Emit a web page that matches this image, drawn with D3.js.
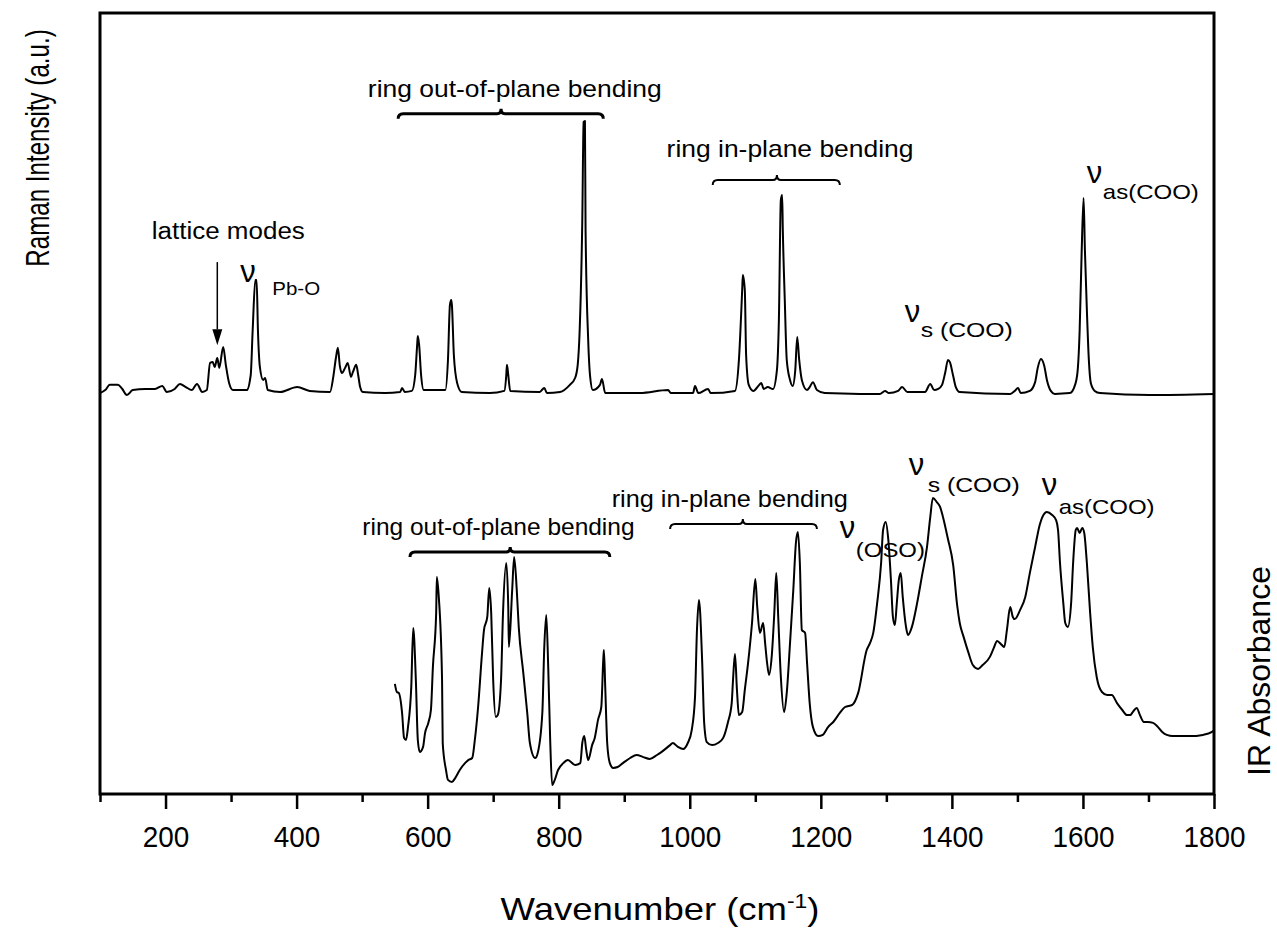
<!DOCTYPE html>
<html><head><meta charset="utf-8">
<script src="https://cdn.jsdelivr.net/npm/d3@7"></script>
<style>
html,body{margin:0;padding:0;background:#fff;}
svg{display:block;font-family:"Liberation Sans",Arial,Helvetica,sans-serif;}
</style></head><body>
<svg id="chart" width="1277" height="930"></svg>
<script>
// Raman spectrum: [wavenumber (cm-1), intensity (a.u.)]
const ramanSpectrum = [
[100,7],[108,18],[115,37],[127,37],[134,22],[141,0],[150,18],[169,22],[184,22],[195,33],[202,11],[214,22],[222,40],[231,29],[240,18],[248,40],[256,11],[263,18],[268,117],[272,120],[275,102],[279,135],[282,99],[288,175],[292,110],[297,44],[303,18],[324,18],[330,73],[333,237],[337,420],[339,420],[341,237],[344,102],[349,55],[352,62],[356,18],[375,11],[401,29],[420,15],[451,11],[456,66],[460,135],[463,172],[466,106],[469,80],[474,99],[478,117],[483,66],[486,84],[491,110],[494,73],[497,29],[501,11],[535,7],[558,11],[561,26],[565,11],[576,15],[581,73],[584,183],[585,215],[587,183],[590,73],[594,18],[627,18],[631,128],[634,329],[636,347],[637,329],[640,146],[645,44],[652,11],[695,7],[717,15],[720,73],[721,110],[723,73],[726,15],[771,11],[778,26],[782,7],[802,11],[817,37],[825,62],[829,110],[832,237],[836,639],[838,996],[840,1000],[841,602],[845,201],[848,66],[852,18],[863,37],[866,58],[871,7],[924,7],[967,18],[971,7],[1005,7],[1008,33],[1013,7],[1028,22],[1032,7],[1069,15],[1075,128],[1080,383],[1081,438],[1084,383],[1086,146],[1090,37],[1097,15],[1106,37],[1109,44],[1113,22],[1119,29],[1127,22],[1133,91],[1136,274],[1139,712],[1141,730],[1142,602],[1145,347],[1148,128],[1153,55],[1157,33],[1161,91],[1164,212],[1167,128],[1171,55],[1179,18],[1183,29],[1188,47],[1194,18],[1206,7],[1260,4],[1290,4],[1298,15],[1304,7],[1318,15],[1324,29],[1332,11],[1359,11],[1367,40],[1373,18],[1379,22],[1385,37],[1390,84],[1394,128],[1397,120],[1402,69],[1406,29],[1412,11],[1489,4],[1496,15],[1501,26],[1505,7],[1519,15],[1527,47],[1531,99],[1536,131],[1541,106],[1545,55],[1551,15],[1557,4],[1580,7],[1588,37],[1592,91],[1595,237],[1598,518],[1601,719],[1603,529],[1606,310],[1609,128],[1612,44],[1618,15],[1626,7],[1702,0],[1800,4]
];

// IR spectrum: [wavenumber (cm-1), absorbance (a.u.)]
const irSpectrum = [
[550,36.7],[553,34.0],[556,33.7],[561,27.0],[564,18.7],[567,18.0],[570,22.3],[575,35.7],[578,55.3],[582,38.0],[585,18.0],[588,14.0],[593,15.7],[596,20.3],[601,23.7],[605,28.0],[608,42.3],[613,60.3],[614,72.3],[617,65.7],[622,38.0],[623,17.0],[628,8.0],[631,4.7],[637,4.0],[642,5.3],[649,8.0],[657,10.3],[662,11.3],[668,12.0],[672,18.0],[677,29.0],[683,47.0],[686,54.7],[691,59.0],[694,68.7],[697,60.3],[700,38.0],[704,25.7],[707,26.3],[712,38.0],[715,60.3],[720,77.0],[723,62.3],[724,49.0],[729,68.0],[732,79.0],[736,68.0],[739,55.7],[746,40.3],[752,27.0],[756,17.0],[764,12.0],[768,13.7],[775,27.0],[778,49.0],[781,59.7],[784,42.3],[787,18.0],[790,3.0],[794,4.7],[799,8.0],[807,10.3],[814,11.3],[825,9.7],[833,10.3],[836,17.0],[839,19.3],[842,14.7],[845,11.3],[851,16.3],[855,18.7],[860,24.7],[865,29.0],[868,44.7],[869,48.0],[871,35.7],[874,17.0],[878,10.3],[883,8.7],[890,9.0],[898,10.3],[909,12.0],[919,13.0],[929,12.3],[939,11.7],[950,13.0],[955,13.7],[970,16.3],[974,17.0],[982,15.7],[990,15.0],[997,17.0],[1003,21.3],[1008,32.3],[1011,54.7],[1014,64.7],[1019,43.7],[1022,23.7],[1026,17.3],[1034,16.3],[1043,17.0],[1051,18.7],[1058,23.7],[1064,30.3],[1066,38.0],[1069,46.7],[1072,34.7],[1075,26.3],[1080,27.3],[1084,34.7],[1089,43.7],[1095,57.0],[1100,71.7],[1103,62.3],[1107,53.7],[1112,57.0],[1115,50.3],[1118,43.7],[1121,39.7],[1125,45.7],[1129,60.3],[1132,73.7],[1135,59.0],[1139,39.0],[1144,27.3],[1148,33.7],[1153,50.3],[1158,68.0],[1162,83.7],[1165,87.3],[1168,77.0],[1171,54.7],[1176,53.7],[1179,43.7],[1183,30.3],[1188,22.3],[1196,19.3],[1203,19.7],[1211,22.3],[1219,24.0],[1229,27.0],[1237,29.0],[1248,29.7],[1257,33.7],[1270,48.0],[1275,50.3],[1280,53.7],[1286,63.7],[1292,77.0],[1295,88.0],[1299,90.7],[1303,84.7],[1307,71.3],[1310,59.0],[1313,56.3],[1316,63.7],[1319,71.3],[1322,73.7],[1325,65.7],[1330,55.7],[1333,53.0],[1339,55.7],[1347,63.7],[1354,72.3],[1362,82.3],[1367,92.3],[1371,98.7],[1377,97.3],[1382,95.7],[1386,92.7],[1394,85.0],[1402,76.3],[1408,63.0],[1412,57.0],[1418,52.3],[1425,47.3],[1432,43.0],[1440,41.7],[1447,43.0],[1458,45.7],[1464,48.7],[1469,51.0],[1476,49.7],[1480,49.0],[1484,54.7],[1489,62.3],[1493,59.0],[1496,58.3],[1504,61.3],[1512,65.7],[1519,73.7],[1527,82.3],[1534,89.7],[1542,93.7],[1545,94.0],[1553,93.0],[1559,91.3],[1562,88.0],[1565,77.0],[1570,63.7],[1573,57.0],[1577,55.7],[1582,63.7],[1585,77.0],[1589,88.0],[1591,88.7],[1595,87.0],[1599,88.7],[1602,87.0],[1606,77.0],[1611,60.3],[1615,49.0],[1621,39.0],[1629,34.0],[1637,33.0],[1644,33.0],[1652,30.3],[1660,28.0],[1667,26.3],[1672,26.3],[1676,27.3],[1682,28.7],[1687,26.3],[1693,24.0],[1699,24.0],[1707,23.7],[1713,22.7],[1721,20.7],[1728,19.7],[1737,19.3],[1763,19.3],[1783,19.7],[1797,20.7],[1800,21.3]
];

const majorTicks = [200, 400, 600, 800, 1000, 1200, 1400, 1600, 1800];
const minorTicks = [100, 300, 500, 700, 900, 1100, 1300, 1500, 1700];

const svg = d3.select("#chart");
const frame = {left: 100, top: 13, right: 1214, bottom: 794};

const x = d3.scaleLinear().domain([100, 1800]).range([frame.left, frame.right]);
const ramanY = d3.scaleLinear().domain([-1456, 1394]).range([frame.bottom, frame.top]);
const irY = d3.scaleLinear().domain([0, 260.33]).range([frame.bottom, frame.top]);

// spectra
const ramanLine = d3.line().x(d => x(d[0])).y(d => ramanY(d[1])).curve(d3.curveMonotoneX);
const irLine = d3.line().x(d => x(d[0])).y(d => irY(d[1])).curve(d3.curveMonotoneX);

svg.append("path").datum(ramanSpectrum).attr("d", ramanLine)
  .attr("fill", "none").attr("stroke", "#000").attr("stroke-width", 2).attr("stroke-linejoin", "round");
svg.append("path").datum(irSpectrum).attr("d", irLine)
  .attr("fill", "none").attr("stroke", "#000").attr("stroke-width", 2).attr("stroke-linejoin", "round");

// frame
svg.append("rect")
  .attr("x", frame.left).attr("y", frame.top)
  .attr("width", frame.right - frame.left).attr("height", frame.bottom - frame.top)
  .attr("fill", "none").attr("stroke", "#000").attr("stroke-width", 3);

// bottom axis: major ticks with labels, minor ticks without
const axisMajor = svg.append("g").attr("transform", `translate(0,${frame.bottom})`)
  .call(d3.axisBottom(x).tickValues(majorTicks).tickSize(15).tickPadding(17).tickFormat(d3.format("d")));
const axisMinor = svg.append("g").attr("transform", `translate(0,${frame.bottom})`)
  .call(d3.axisBottom(x).tickValues(minorTicks).tickSize(8).tickFormat(""));
[axisMajor, axisMinor].forEach(g => {
  g.select(".domain").remove();
  g.selectAll(".tick line").attr("stroke", "#000").attr("stroke-width", 2.5);
});
axisMajor.selectAll(".tick text")
  .attr("fill", "#000").attr("font-size", 30)
  .attr("font-family", '"Liberation Sans",Arial,sans-serif')
  .attr("transform", "scale(0.93,1)");

// text placed at a pixel anchor, optionally rotated, with horizontal stretch sx
function textAt(px, py, sx, size, anchor, rotate) {
  const g = svg.append("g")
    .attr("transform", `translate(${px},${py})${rotate ? ` rotate(${rotate})` : ""} scale(${sx},1)`);
  return g.append("text").attr("font-size", size).attr("text-anchor", anchor || "start");
}

// axis titles
const xTitle = textAt(660, 920, 1.14, 32, "middle");
xTitle.append("tspan").text("Wavenumber (cm");
xTitle.append("tspan").attr("font-size", 20).attr("dy", -12).text("-1");
xTitle.append("tspan").attr("dy", 12).text(")");

textAt(49, 148, 0.71, 34, "middle", -90).text("Raman Intensity (a.u.)");
textAt(1270, 671, 1.0, 32, "middle", -90).text("IR Absorbance");

// annotation helpers
function brace(x0, x1, xm, yPx, width) {
  const a = x(x0), b = x(x1), m = x(xm), y = yPx;
  const p = d3.path();
  p.moveTo(a, y + 5);
  p.quadraticCurveTo(a, y, a + 5, y);
  p.lineTo(m - 4, y);
  p.quadraticCurveTo(m, y, m, y - 5);
  p.quadraticCurveTo(m, y, m + 4, y);
  p.lineTo(b - 5, y);
  p.quadraticCurveTo(b, y, b, y + 5);
  svg.append("path").attr("d", p.toString()).attr("fill", "none")
    .attr("stroke", "#000").attr("stroke-width", width);
}
function label(xv, yPx, txt, size, sx, anchor) {
  return textAt(x(xv), yPx, sx, size, anchor).text(txt);
}
// vibration label: ν followed by a lowered subscript
function nuLabel(xv, yPx, sub, subSize, subSx, subDx, subDy) {
  textAt(x(xv), yPx, 1, 31).text("ν");
  textAt(x(xv) + 16 + subDx, yPx + subDy, subSx, subSize).text(sub);
}

// Raman annotations
label(179, ramanY(569), "lattice modes", 23, 1.13);
svg.append("line").attr("x1", x(279)).attr("x2", x(279))
  .attr("y1", ramanY(485)).attr("y2", ramanY(240))
  .attr("stroke", "#000").attr("stroke-width", 1.5);
svg.append("path")
  .attr("d", d3.line()([[x(279) - 5, ramanY(240)], [x(279) + 5, ramanY(240)], [x(279), ramanY(182)]]) + "Z")
  .attr("fill", "#000");
nuLabel(314, ramanY(412), "Pb-O", 19, 1.08, 16, 13);

label(733, ramanY(1088), "ring out-of-plane bending", 23, 1.15, "middle");
brace(555, 868, 712, ramanY(1026), 3);
label(1153, ramanY(869), "ring in-plane bending", 23, 1.15, "middle");
brace(1035, 1229, 1133, ramanY(785), 2);
nuLabel(1328, ramanY(266), "s (COO)", 21, 1.18, 0, 15);
nuLabel(1606, ramanY(774), "as(COO)", 20, 1.2, 0, 16);

// IR annotations
label(708, irY(86.3), "ring out-of-plane bending", 23, 1.065, "middle");
brace(573, 878, 726, irY(80.7), 3);
label(1061, irY(95.7), "ring in-plane bending", 23, 1.1, "middle");
brace(970, 1194, 1081, irY(90), 2);
nuLabel(1229, irY(85.3), "(OSO)", 21, 1.14, 0, 19);
nuLabel(1334, irY(106.3), "s (COO)", 21, 1.18, 3, 17);
nuLabel(1537, irY(99.7), "as(COO)", 20, 1.2, 1, 19);
</script>
</body></html>
